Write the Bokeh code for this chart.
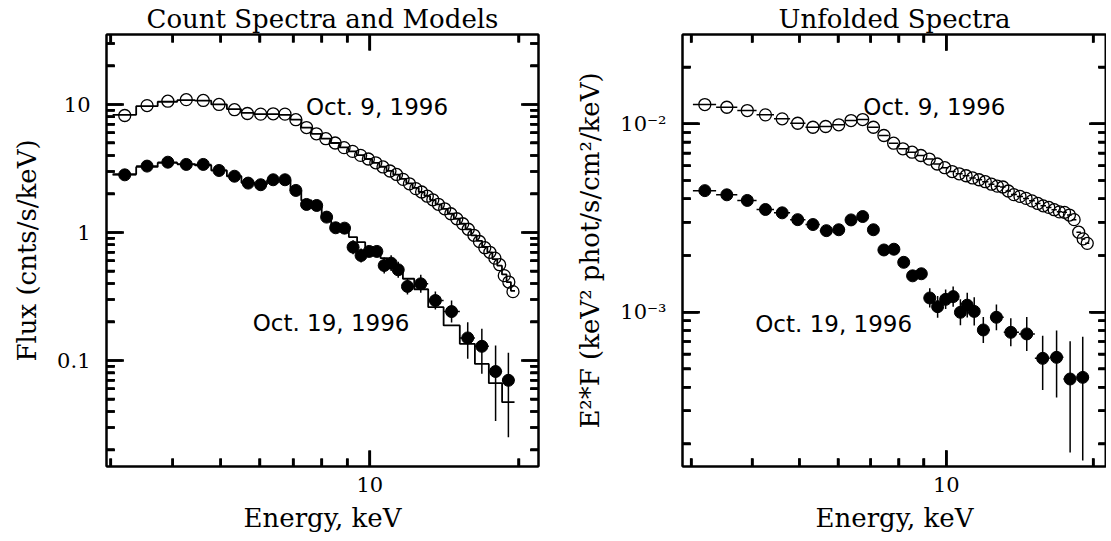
import numpy as np
from bokeh.plotting import figure
from bokeh.layouts import row
from bokeh.models import FixedTicker, LogAxis, ColumnDataSource
from bokeh.embed import file_html
from bokeh.resources import INLINE
from bokeh.core.properties import value

# ---------------- data ----------------
# Oct. 9, 1996 (open circles): bin centres in keV
energy_oct9 = [3.20, 3.55, 3.91, 4.26, 4.61, 4.96, 5.33, 5.66, 6.02, 6.38, 6.74, 7.09,
               7.45, 7.80, 8.15, 8.51, 8.87, 9.23, 9.58, 9.93, 10.28, 10.63, 10.98,
               11.32, 11.67, 12.02, 12.38, 12.72, 13.06, 13.40, 13.75, 14.16, 14.57,
               14.98, 15.40, 15.80, 16.22, 16.64, 17.06, 17.47, 17.88, 18.28, 18.68,
               19.08, 19.45]
count_oct9 = [8.2, 9.8, 10.6, 10.9, 10.75, 10.0, 9.1, 8.5, 8.4, 8.45, 8.4, 7.6,
              6.6, 5.9, 5.4, 5.0, 4.6, 4.3, 4.0, 3.75, 3.5, 3.25, 3.02,
              2.84, 2.6, 2.4, 2.2, 2.07, 1.92, 1.80, 1.66, 1.53, 1.40,
              1.28, 1.17, 1.06, 0.95, 0.85, 0.76, 0.70, 0.63, 0.56, 0.46,
              0.41, 0.345]
model_oct9 = [8.3, 9.7, 10.5, 10.8, 10.7, 10.0, 9.2, 8.6, 8.4, 8.4, 8.3, 7.6,
              6.6, 5.9, 5.4, 5.0, 4.62, 4.3, 4.02, 3.75, 3.5, 3.26, 3.03,
              2.83, 2.62, 2.42, 2.23, 2.07, 1.93, 1.79, 1.66, 1.53, 1.40,
              1.28, 1.17, 1.06, 0.95, 0.86, 0.77, 0.70, 0.62, 0.55, 0.47,
              0.41, 0.35]
unfolded_oct9 = [0.01266, 0.01225, 0.01176, 0.01116, 0.01063, 0.01007, 0.00959, 0.00968,
                 0.00988, 0.01041, 0.01054, 0.00959, 0.00867, 0.00789, 0.00737, 0.00707,
                 0.00679, 0.00650, 0.00612, 0.00585, 0.00558, 0.00543, 0.00530, 0.00516,
                 0.00505, 0.00493, 0.00478, 0.00467, 0.00462, 0.00440, 0.00421, 0.00412,
                 0.00402, 0.00390, 0.00378, 0.00367, 0.00360, 0.00350, 0.00341, 0.00339,
                 0.00328, 0.00310, 0.00266, 0.00245, 0.00232]

# Oct. 19, 1996 (filled circles)
energy_oct19 = [3.20, 3.55, 3.91, 4.26, 4.61, 4.96, 5.33, 5.68, 6.02, 6.38, 6.74, 7.09,
                7.45, 7.81, 8.18, 8.53, 8.89, 9.25, 9.60, 9.97, 10.33, 10.69, 11.04,
                11.41, 11.91, 12.67, 13.56, 14.62, 15.76, 16.83, 17.94, 19.04]
count_oct19 = [2.82, 3.30, 3.54, 3.40, 3.40, 3.05, 2.75, 2.43, 2.36, 2.58, 2.58, 2.13,
               1.655, 1.625, 1.318, 1.088, 1.081, 0.768, 0.661, 0.711, 0.711, 0.552, 0.576,
               0.511, 0.379, 0.397, 0.294, 0.241, 0.150, 0.129, 0.082, 0.070]
count_oct19_lo = [2.76, 3.23, 3.47, 3.33, 3.33, 2.98, 2.68, 2.37, 2.30, 2.51, 2.51, 2.06,
                  1.59, 1.56, 1.26, 1.03, 1.02, 0.677, 0.583, 0.650, 0.650, 0.478, 0.499,
                  0.442, 0.328, 0.338, 0.250, 0.198, 0.103, 0.0787, 0.0336, 0.0251]
count_oct19_hi = [2.88, 3.37, 3.61, 3.47, 3.47, 3.12, 2.82, 2.49, 2.42, 2.65, 2.65, 2.20,
                  1.72, 1.69, 1.38, 1.15, 1.14, 0.871, 0.750, 0.778, 0.778, 0.638, 0.665,
                  0.590, 0.438, 0.467, 0.346, 0.294, 0.199, 0.177, 0.131, 0.115]
model_oct19 = [2.85, 3.25, 3.50, 3.42, 3.35, 3.05, 2.75, 2.45, 2.38, 2.55, 2.55, 2.12,
               1.78, 1.62, 1.35, 1.12, 1.08, 0.92, 0.84, 0.76, 0.70, 0.63, 0.58,
               0.52, 0.435, 0.36, 0.261, 0.188, 0.135, 0.094, 0.0665, 0.0472]
unfolded_oct19 = [0.00442, 0.00420, 0.00392, 0.00351, 0.00337, 0.00310, 0.00292, 0.00271,
                  0.00274, 0.00309, 0.00322, 0.00274, 0.00214, 0.00216, 0.00184, 0.00156,
                  0.00160, 0.00119, 0.00107, 0.00117, 0.00121, 0.000999, 0.00109, 0.00101,
                  0.000805, 0.000940, 0.000782, 0.000767, 0.000569, 0.000576, 0.000442,
                  0.000451]
unfolded_oct19_lo = [0.00432, 0.00410, 0.00383, 0.00343, 0.00329, 0.00302, 0.00284, 0.00263,
                     0.00266, 0.00300, 0.00313, 0.00265, 0.00206, 0.00208, 0.00176, 0.00147,
                     0.00151, 0.00106, 0.000935, 0.00104, 0.00107, 0.000852, 0.000936,
                     0.000851, 0.000687, 0.000802, 0.000659, 0.000623, 0.000387, 0.000353,
                     0.000180, 0.000163]
unfolded_oct19_hi = [0.00452, 0.00430, 0.00401, 0.00359, 0.00345, 0.00318, 0.00300, 0.00279,
                     0.00282, 0.00318, 0.00331, 0.00283, 0.00222, 0.00224, 0.00192, 0.00166,
                     0.00170, 0.00134, 0.00122, 0.00132, 0.00137, 0.00117, 0.00127, 0.00120,
                     0.000943, 0.00110, 0.000928, 0.000944, 0.000751, 0.000799, 0.000701,
                     0.000742]

date_labels = ["Oct. 9, 1996", "Oct. 19, 1996"]
titles = ["Count Spectra and Models", "Unfolded Spectra"]
x_title = "Energy, keV"
y_titles = ["Flux (cnts/s/keV)", "E\u00b2*F (keV\u00b2 phot/s/cm\u00b2/keV)"]

# ---------------- helpers ----------------
SERIF = "DejaVu Serif"
SANS = "DejaVu Sans"
X_MAJOR = [10.0]
X_MINOR = [3.0, 4.0, 5.0, 6.0, 7.0, 8.0, 9.0, 20.0]
FRAME_H = 432
NUDGE = 1.002  # tick origins a hair inside the frame


def bin_edges(c):
    c = np.asarray(c, float)
    mid = (c[1:] + c[:-1]) / 2.0
    return np.concatenate([[c[0] - (c[1] - c[0]) / 2.0], mid, [c[-1] + (c[-1] - c[-2]) / 2.0]])


def minor_list(exps):
    return [m * 10.0 ** e for e in exps for m in range(2, 10)]


def style_axis(ax, show):
    ax.axis_line_color = "black"
    ax.axis_line_width = 2
    ax.major_tick_in = 16
    ax.major_tick_out = 0
    ax.minor_tick_in = 8
    ax.minor_tick_out = 0
    ax.major_tick_line_color = "black"
    ax.minor_tick_line_color = "black"
    ax.major_tick_line_width = 2.5
    ax.minor_tick_line_width = 2.5
    if show:
        ax.major_label_text_font = SERIF
        ax.major_label_text_font_size = "21px"
        ax.major_label_text_color = "black"
        ax.axis_label_text_font = SERIF
        ax.axis_label_text_font_size = "26px"
        ax.axis_label_text_font_style = "normal"
        ax.axis_label_text_color = "black"
    else:
        ax.major_label_text_font_size = "1px"
        ax.major_label_text_alpha = 0
        ax.major_label_standoff = 0


def add_ticks(p, xr, yr, fw, ymajor, yminor):
    """Inward ticks on all four sides, drawn from the frame edges with pixel lengths."""
    xdec = fw / np.log10(xr[1] / xr[0])        # px per decade, x
    ydec = FRAME_H / np.log10(yr[1] / yr[0])    # px per decade, y
    x_lo, x_hi = xr[0] * NUDGE, xr[1] / NUDGE
    y_lo, y_hi = yr[0] * NUDGE, yr[1] / NUDGE
    x0, x1, y0, y1 = [], [], [], []
    for ticks, L in ((X_MAJOR, 16), (X_MINOR, 8)):
        f = 10 ** (L / ydec)
        for t in ticks:
            x0 += [t, t]
            x1 += [t, t]
            y0 += [float(y_lo), float(y_hi)]
            y1 += [float(y_lo * f), float(y_hi / f)]
    for ticks, L in ((ymajor, 17), (yminor, 8)):
        f = 10 ** (L / xdec)
        for t in ticks:
            y0 += [float(t), float(t)]
            y1 += [float(t), float(t)]
            x0 += [float(x_lo), float(x_hi)]
            x1 += [float(x_lo * f), float(x_hi / f)]
    src = ColumnDataSource(dict(x0=x0, x1=x1, y0=y0, y1=y1))
    p.segment(x0="x0", x1="x1", y0="y0", y1="y1", source=src,
              line_color="black", line_width=2.5)


def make_fig(title, xr, yr, ymajor, yminor, ylabels, ylabel, left_border, right_border, fw):
    p = figure(title=title, x_axis_type="log", y_axis_type="log",
               x_range=xr, y_range=yr, frame_width=fw, frame_height=FRAME_H,
               output_backend="svg", toolbar_location=None,
               min_border_left=left_border, min_border_right=right_border,
               min_border_top=0, min_border_bottom=0)
    p.title.text_font = SERIF
    p.title.text_font_style = "normal"
    p.title.text_font_size = "26px"
    p.title.text_color = "black"
    p.title.align = "center"
    p.title.standoff = 2
    p.xgrid.grid_line_color = None
    p.ygrid.grid_line_color = None
    p.outline_line_color = "black"
    p.outline_line_width = 2

    xa = p.xaxis[0]
    xa.ticker = FixedTicker(ticks=X_MAJOR, minor_ticks=X_MINOR)
    xa.major_label_overrides = {10: "10"}
    xa.axis_label = x_title
    xa.major_label_standoff = 10
    xa.axis_label_standoff = 8
    style_axis(xa, True)

    ya = p.yaxis[0]
    ya.ticker = FixedTicker(ticks=ymajor, minor_ticks=yminor)
    ya.major_label_overrides = ylabels
    ya.axis_label = ylabel
    ya.major_label_standoff = 16
    ya.axis_label_standoff = 12
    style_axis(ya, True)

    top = LogAxis(ticker=FixedTicker(ticks=X_MAJOR, minor_ticks=X_MINOR))
    style_axis(top, False)
    p.add_layout(top, "above")
    right = LogAxis(ticker=FixedTicker(ticks=ymajor, minor_ticks=yminor))
    style_axis(right, False)
    p.add_layout(right, "right")

    add_ticks(p, xr, yr, fw, ymajor, yminor)
    return p


# ---------------- left panel ----------------
xr1, yr1 = (2.94, 21.9), (0.01485, 35.2)
ymaj1 = [0.1, 1.0, 10.0]
ymin1 = minor_list([-2, -1, 0]) + [20.0, 30.0]
p1 = make_fig(titles[0], xr1, yr1, ymaj1, ymin1,
              {0.1: "0.1", 1: "1", 10: "10"}, y_titles[0], 106, 34, 432)

e9 = bin_edges(energy_oct9)
e19 = bin_edges(energy_oct19)

p1.step(x=list(e9), y=model_oct9 + [model_oct9[-1]], mode="after",
        line_color="black", line_width=1.8)
p1.step(x=list(e19), y=model_oct19 + [model_oct19[-1]], mode="after",
        line_color="black", line_width=1.8)
p1.segment(x0=energy_oct19, x1=energy_oct19, y0=count_oct19_lo, y1=count_oct19_hi,
           line_color="black", line_width=1.5)
p1.segment(x0=list(e19[:-1]), x1=list(e19[1:]), y0=count_oct19, y1=count_oct19,
           line_color="black", line_width=1.5)
p1.scatter(x=energy_oct9, y=count_oct9, marker="circle", size=12,
           fill_color=None, line_color="black", line_width=1.3)
p1.scatter(x=energy_oct19, y=count_oct19, marker="circle", size=12,
           fill_color="black", line_color="black")
p1.text(x=[7.43, 5.80], y=[9.5, 0.1945], text=date_labels,
        text_font=value(SANS), text_font_size="23px", text_color="black",
        text_align="left", text_baseline="alphabetic")

# ---------------- right panel ----------------
xr2, yr2 = (2.88, 21.3), (1.517e-4, 0.0298)
ymaj2 = [1e-3, 1e-2]
ymin2 = minor_list([-4, -3]) + [0.02]
p2 = make_fig(titles[1], xr2, yr2, ymaj2, ymin2,
              {0.001: "10\u207b\u00b3", 0.01: "10\u207b\u00b2"}, y_titles[1], 110, 0, 424)

p2.segment(x0=list(e9[:-1]), x1=list(e9[1:]), y0=unfolded_oct9, y1=unfolded_oct9,
           line_color="black", line_width=1.5)
p2.segment(x0=list(e19[:-1]), x1=list(e19[1:]), y0=unfolded_oct19, y1=unfolded_oct19,
           line_color="black", line_width=1.5)
p2.segment(x0=energy_oct19, x1=energy_oct19, y0=unfolded_oct19_lo, y1=unfolded_oct19_hi,
           line_color="black", line_width=1.5)
p2.scatter(x=energy_oct9, y=unfolded_oct9, marker="circle", size=12,
           fill_color=None, line_color="black", line_width=1.3)
p2.scatter(x=energy_oct19, y=unfolded_oct19, marker="circle", size=12,
           fill_color="black", line_color="black")
p2.text(x=[6.76, 4.06], y=[0.01222, 8.71e-4], text=date_labels,
        text_font=value(SANS), text_font_size="23px", text_color="black",
        text_align="left", text_baseline="alphabetic")

layout = row(p1, p2)
open("out.html", "w").write(file_html(layout, INLINE))
